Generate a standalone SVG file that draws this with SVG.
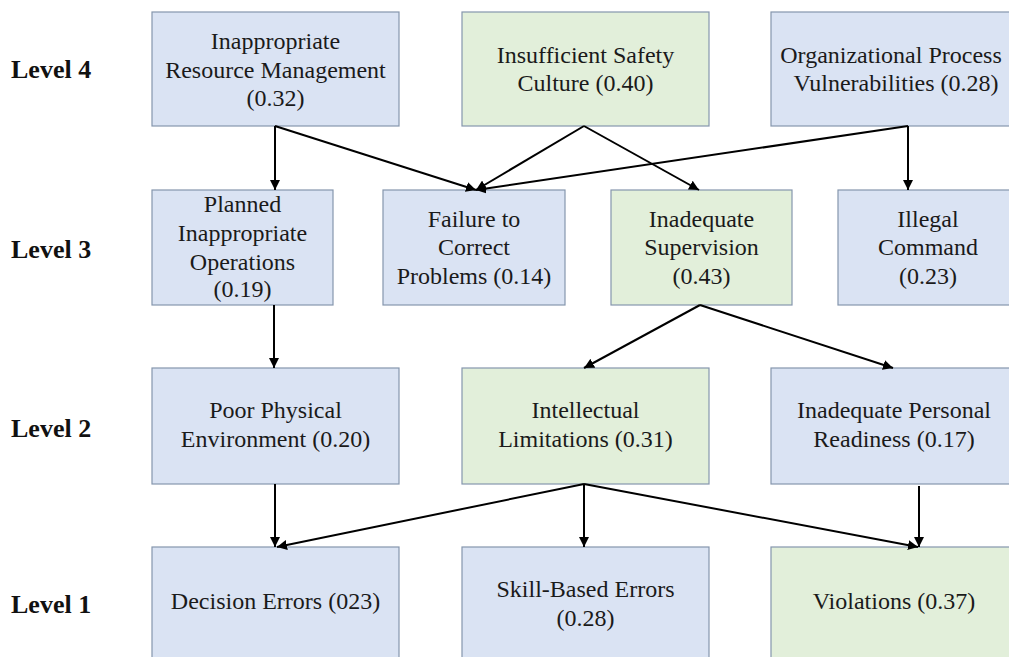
<svg xmlns="http://www.w3.org/2000/svg" width="1009" height="657" viewBox="0 0 1009 657">
<style>
.b{fill:#dae3f3;stroke:#8596ad;stroke-width:1.2}
.g{fill:#e2efda;stroke:#8596ad;stroke-width:1.2}
.t{font-family:'Liberation Serif','DejaVu Serif',serif;font-size:24px;fill:#1a1a1a;text-anchor:middle}
.lv{font-family:'Liberation Serif','DejaVu Serif',serif;font-size:26px;font-weight:bold;fill:#111}
.c{stroke:#000;stroke-width:2;fill:none;marker-end:url(#ah)}
</style>
<defs>
<marker id="ah" viewBox="0 0 10 10" refX="10" refY="5" markerWidth="5" markerHeight="5" orient="auto" markerUnits="strokeWidth">
<path d="M0,0 L10,5 L0,10 z" fill="#000"/>
</marker>
</defs>
<rect width="1009" height="657" fill="#fff"/>
<g id="levels">
<text class="lv" x="11" y="78">Level 4</text>
<text class="lv" x="11" y="258">Level 3</text>
<text class="lv" x="11" y="437">Level 2</text>
<text class="lv" x="11" y="613">Level 1</text>
</g>
<g id="n-irm"><rect class="b" x="152" y="12" width="247" height="114"/>
<text class="t" x="275.5" y="49">Inappropriate</text><text class="t" x="275.5" y="78">Resource Management</text><text class="t" x="275.5" y="106">(0.32)</text></g>
<g id="n-isc"><rect class="g" x="462" y="12" width="247" height="114"/>
<text class="t" x="585.5" y="63">Insufficient Safety</text><text class="t" x="585.5" y="91">Culture (0.40)</text></g>
<g id="n-opv"><rect class="b" x="771" y="12" width="247" height="114"/>
<text class="t" x="891" y="63">Organizational Process</text><text class="t" x="896" y="91">Vulnerabilities  (0.28)</text></g>
<g id="n-pio"><rect class="b" x="152" y="190" width="181" height="115"/>
<text class="t" x="242.5" y="212">Planned</text><text class="t" x="242.5" y="241">Inappropriate</text><text class="t" x="242.5" y="270">Operations</text><text class="t" x="242.5" y="297">(0.19)</text></g>
<g id="n-fcp"><rect class="b" x="383" y="190" width="182" height="115"/>
<text class="t" x="474" y="227">Failure to</text><text class="t" x="474" y="255">Correct</text><text class="t" x="474" y="284">Problems (0.14)</text></g>
<g id="n-is"><rect class="g" x="611" y="190" width="181" height="115"/>
<text class="t" x="701.5" y="227">Inadequate</text><text class="t" x="701.5" y="255">Supervision</text><text class="t" x="701.5" y="284">(0.43)</text></g>
<g id="n-ic"><rect class="b" x="838" y="190" width="181" height="115"/>
<text class="t" x="928" y="227">Illegal</text><text class="t" x="928" y="255">Command</text><text class="t" x="928" y="284">(0.23)</text></g>
<g id="n-ppe"><rect class="b" x="152" y="368" width="247" height="116"/>
<text class="t" x="275.5" y="418">Poor Physical</text><text class="t" x="275.5" y="447">Environment (0.20)</text></g>
<g id="n-il"><rect class="g" x="462" y="368" width="247" height="116"/>
<text class="t" x="585.5" y="418">Intellectual</text><text class="t" x="585.5" y="447">Limitations (0.31)</text></g>
<g id="n-ipr"><rect class="b" x="771" y="368" width="247" height="116"/>
<text class="t" x="894" y="418">Inadequate Personal</text><text class="t" x="894" y="447">Readiness (0.17)</text></g>
<g id="n-de"><rect class="b" x="152" y="547" width="247" height="120"/>
<text class="t" x="275.5" y="609">Decision Errors (023)</text></g>
<g id="n-sbe"><rect class="b" x="462" y="547" width="247" height="120"/>
<text class="t" x="585.5" y="597">Skill-Based  Errors</text><text class="t" x="585.5" y="626">(0.28)</text></g>
<g id="n-v"><rect class="g" x="771" y="547" width="247" height="120"/>
<text class="t" x="894" y="609">Violations  (0.37)</text></g>
<g id="connectors">
<path class="c" d="M275,126 L275,190"/>
<path class="c" d="M275,126 L476,190"/>
<path class="c" d="M584,126 L476,190"/>
<path class="c" d="M584,126 L699,190"/>
<path class="c" d="M908,126 L476,190"/>
<path class="c" d="M908,126 L908,190"/>
<path class="c" d="M274,305 L274,368"/>
<path class="c" d="M700,305 L584,368"/>
<path class="c" d="M700,305 L893,368"/>
<path class="c" d="M275,484 L275,547"/>
<path class="c" d="M584,484 L277,547"/>
<path class="c" d="M584,484 L584,547"/>
<path class="c" d="M584,484 L918,547"/>
<path class="c" d="M919,486 L919,547"/>
</g>
</svg>
